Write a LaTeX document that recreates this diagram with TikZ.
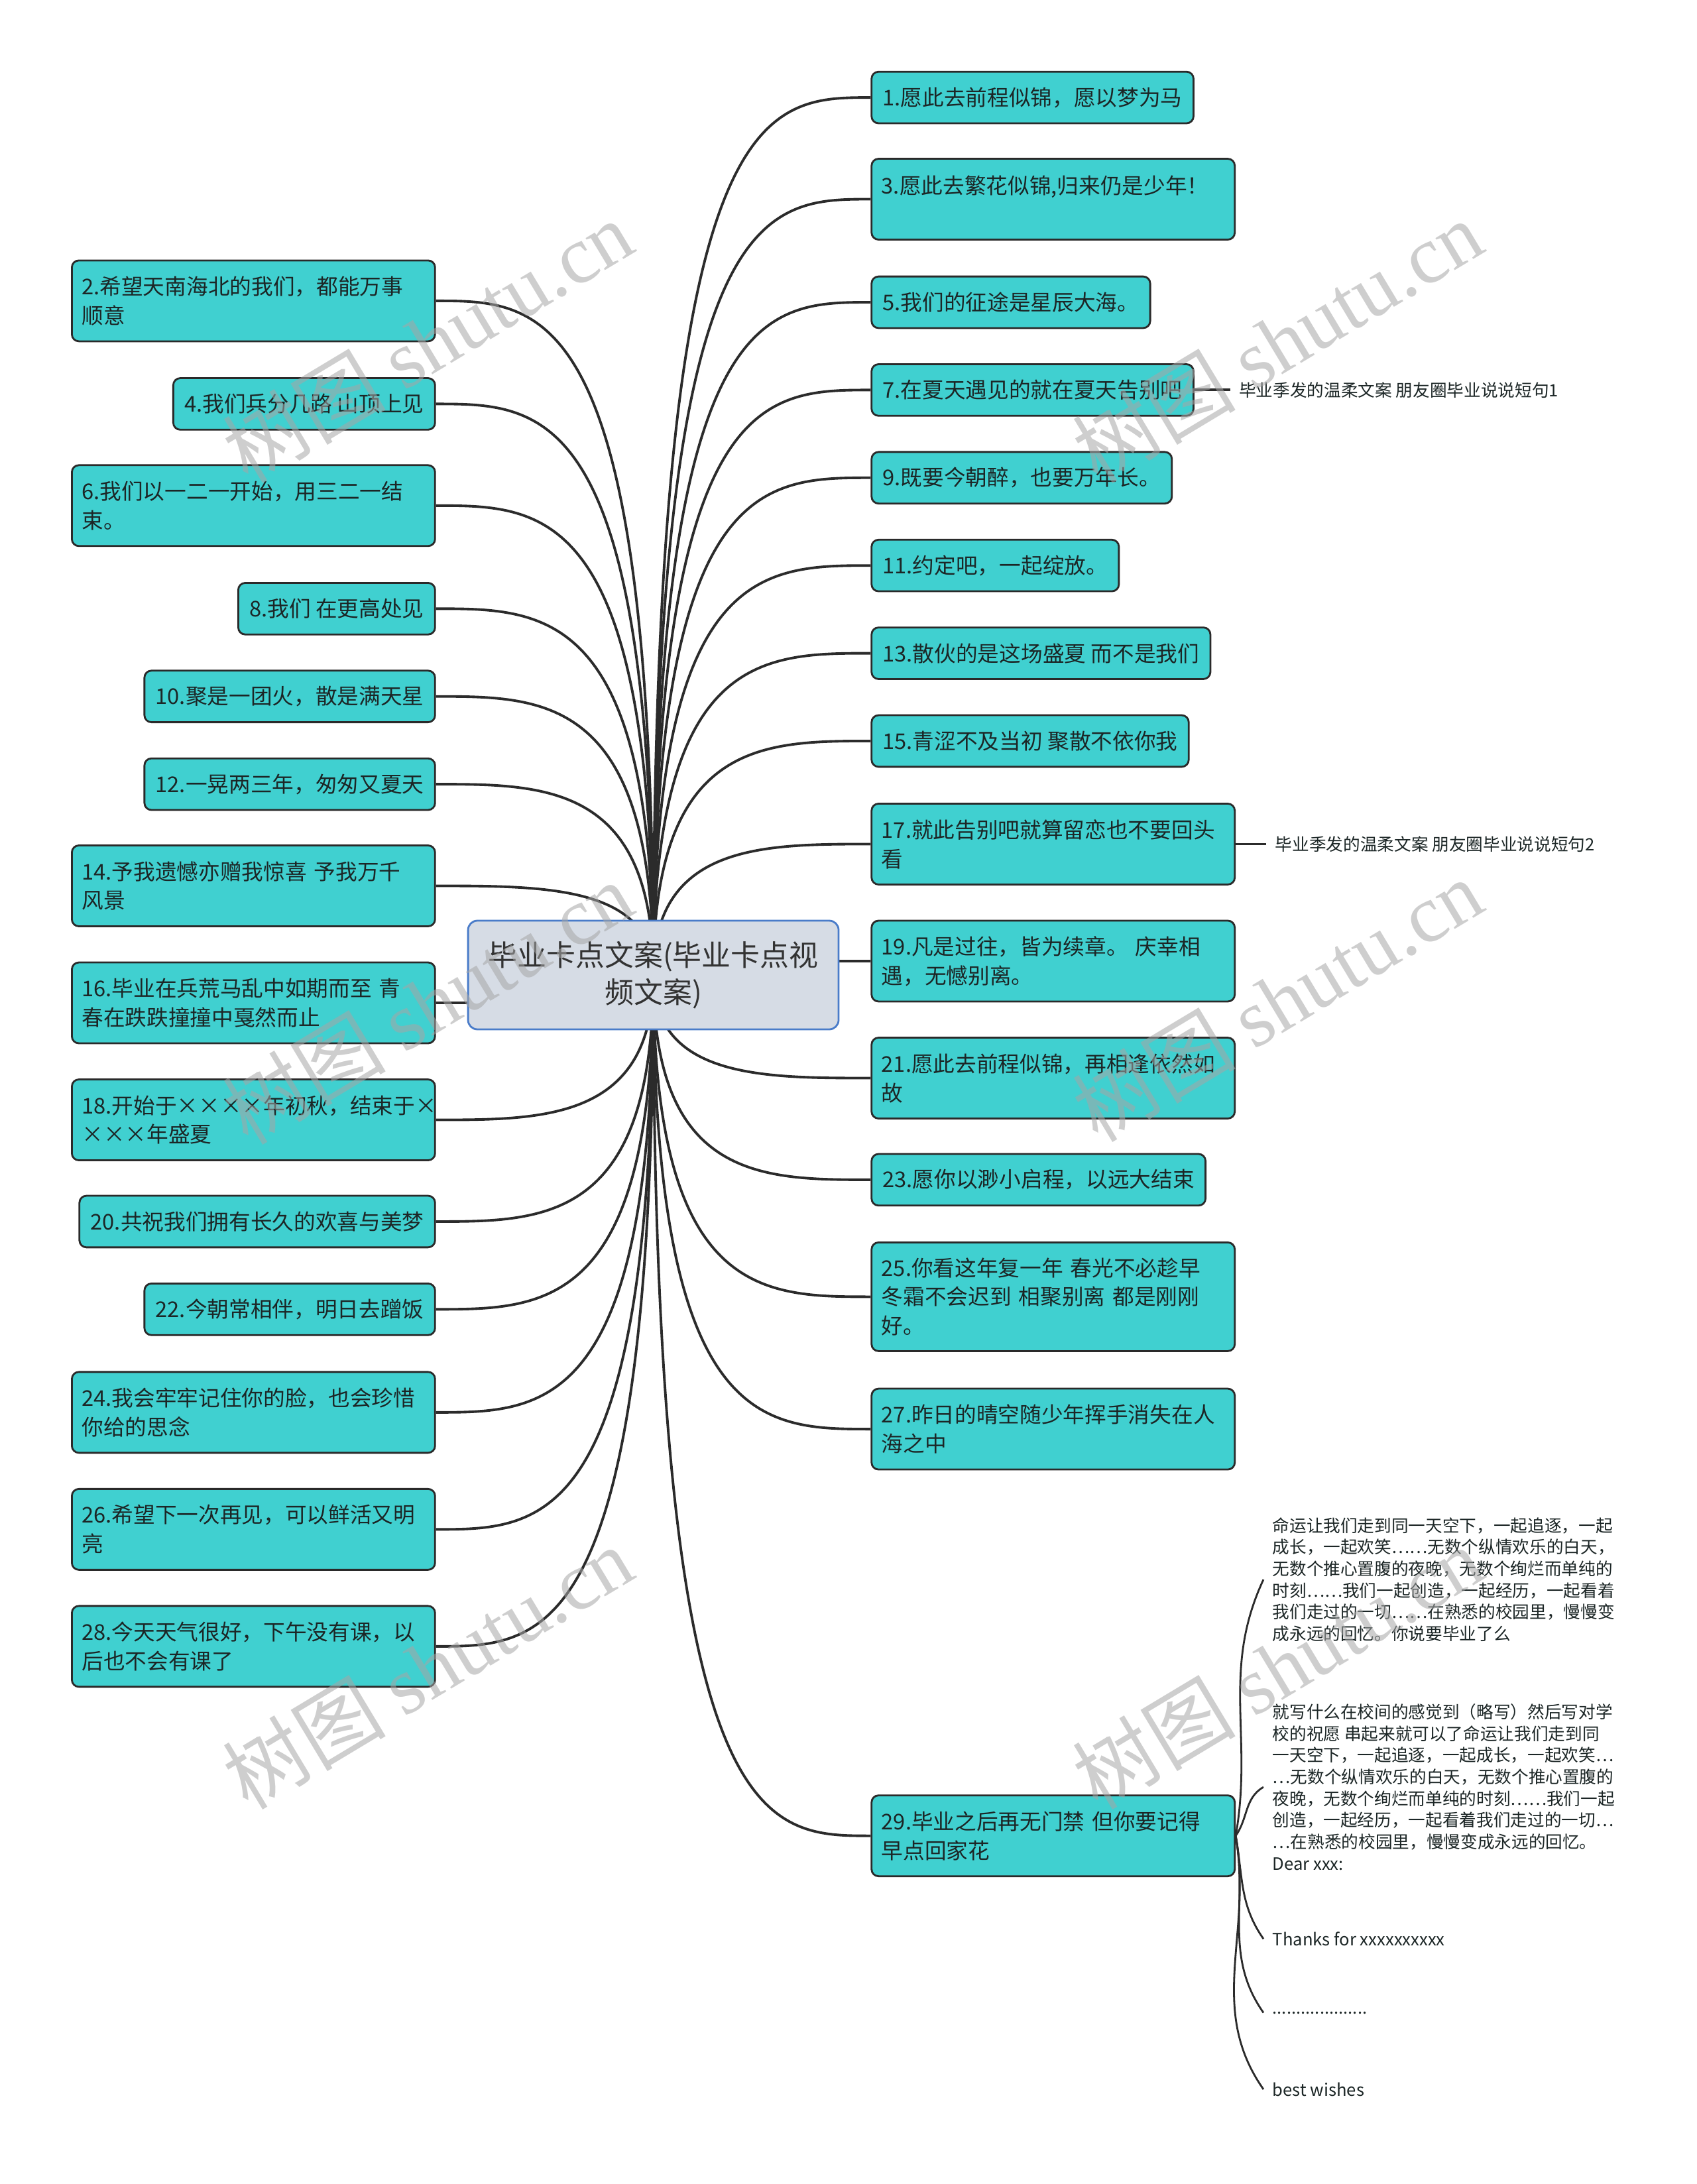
\documentclass[tikz,border=0pt]{standalone}
\usepackage{fontspec}
\setmainfont{Noto Sans CJK SC}
\newfontfamily\wmlatin{Liberation Serif}
\usetikzlibrary{positioning, calc, backgrounds}

\definecolor{boxfill}{HTML}{40D0D0}
\definecolor{boxline}{HTML}{2A2A2A}
\definecolor{rootfill}{HTML}{D6DCE5}
\definecolor{rootline}{HTML}{4A7CC9}
\definecolor{linkcol}{HTML}{2B2B2B}
\definecolor{txtcol}{HTML}{1C2626}
\definecolor{wmcol}{HTML}{A6A6A6}

\begin{document}
\begin{tikzpicture}[
  x=0.21018mm, y=-0.21018mm,
  box/.style={rounded corners=3pt, draw=boxline, line width=0.8pt, fill=boxfill,
              text=txtcol, font=\fontsize{9.3pt}{12.5pt}\selectfont,
              inner xsep=0.168cm, inner ysep=0pt, minimum height=0.778cm, align=left},
  rbox/.style={box, anchor=west},
  lbox/.style={box, anchor=east},
  wide/.style={text width=5.18cm, inner xsep=0.15cm},
  two/.style={minimum height=1.22cm},
  three/.style={minimum height=1.64cm},
  rootbox/.style={rounded corners=4pt, draw=rootline, line width=0.8pt, fill=rootfill,
                  text=black!80, font=\fontsize{12.5pt}{16pt}\selectfont, align=center,
                  minimum width=5.59cm, minimum height=1.64cm},
  note/.style={font=\fontsize{7.3pt}{9.3pt}\selectfont, text=txtcol, anchor=west,
               inner xsep=0.13cm, inner ysep=1pt, align=left},
  link/.style={draw=linkcol, line width=1.1pt},
  sublink/.style={draw=linkcol, line width=0.8pt},
  wm/.style={text=wmcol, opacity=0.55, rotate=31, font=\fontsize{35pt}{35pt}\selectfont},
]
  \useasboundingbox (0,0) rectangle (1218,1568);

  % ═══ Root ═══════════════════════════════════════════════════
  \node[rootbox] (root) at (469, 700) {毕业卡点文案(毕业卡点视\\频文案)};

  % ═══ RIGHT: odd entries ═════════════════════════════════════
  \node[rbox] (r1)  at (625, 70)  {1.愿此去前程似锦，愿以梦为马};
  \node[rbox, wide, two] (r3) at (625, 143) {3.愿此去繁花似锦,归来仍是少年！\\ \mbox{}};
  \node[rbox] (r5)  at (625, 217) {5.我们的征途是星辰大海。};
  \node[rbox] (r7)  at (625, 280) {7.在夏天遇见的就在夏天告别吧};
  \node[rbox] (r9)  at (625, 343) {9.既要今朝醉，也要万年长。};
  \node[rbox] (r11) at (625, 406) {11.约定吧，一起绽放。};
  \node[rbox] (r13) at (625, 469) {13.散伙的是这场盛夏 而不是我们};
  \node[rbox] (r15) at (625, 532) {15.青涩不及当初 聚散不依你我};
  \node[rbox, wide, two] (r17) at (625, 606) {17.就此告别吧就算留恋也不要回头\\看};
  \node[rbox, wide, two] (r19) at (625, 690) {19.凡是过往，皆为续章。 庆幸相\\遇，无憾别离。};
  \node[rbox, wide, two] (r21) at (625, 774) {21.愿此去前程似锦，再相逢依然如\\故};
  \node[rbox] (r23) at (625, 847) {23.愿你以渺小启程，以远大结束};
  \node[rbox, wide, three] (r25) at (625, 931) {25.你看这年复一年 春光不必趁早\\冬霜不会迟到 相聚别离 都是刚刚\\好。};
  \node[rbox, wide, two] (r27) at (625, 1026) {27.昨日的晴空随少年挥手消失在人\\海之中};
  \node[rbox, wide, two] (r29) at (625, 1318) {29.毕业之后再无门禁 但你要记得\\早点回家花};

  % ═══ LEFT: even entries ═════════════════════════════════════
  \node[lbox, wide, two] (l2)  at (313, 216) {2.希望天南海北的我们，都能万事\\顺意};
  \node[lbox] (l4)  at (313, 290) {4.我们兵分几路 山顶上见};
  \node[lbox, wide, two] (l6)  at (313, 363) {6.我们以一二一开始，用三二一结\\束。};
  \node[lbox] (l8)  at (313, 437) {8.我们 在更高处见};
  \node[lbox] (l10) at (313, 500) {10.聚是一团火，散是满天星};
  \node[lbox] (l12) at (313, 563) {12.一晃两三年，匆匆又夏天};
  \node[lbox, wide, two] (l14) at (313, 636) {14.予我遗憾亦赠我惊喜 予我万千\\风景};
  \node[lbox, wide, two] (l16) at (313, 720) {16.毕业在兵荒马乱中如期而至 青\\春在跌跌撞撞中戛然而止};
  \node[lbox, wide, two] (l18) at (313, 804) {18.开始于××××年初秋，结束于×\\×××年盛夏};
  \node[lbox] (l20) at (313, 877) {20.共祝我们拥有长久的欢喜与美梦};
  \node[lbox] (l22) at (313, 940) {22.今朝常相伴，明日去蹭饭};
  \node[lbox, wide, two] (l24) at (313, 1014) {24.我会牢牢记住你的脸，也会珍惜\\你给的思念};
  \node[lbox, wide, two] (l26) at (313, 1098) {26.希望下一次再见，可以鲜活又明\\亮};
  \node[lbox, wide, two] (l28) at (313, 1182) {28.今天天气很好，下午没有课，以\\后也不会有课了};

  % ═══ Side notes ═════════════════════════════════════════════
  \node[note] (n7)  at (883, 280) {毕业季发的温柔文案 朋友圈毕业说说短句1};
  \node[note] (n17) at (909, 606) {毕业季发的温柔文案 朋友圈毕业说说短句2};

  % children of 29
  \node[note] (t1) at (907, 1134) {命运让我们走到同一天空下，一起追逐，一起\\
    成长，一起欢笑……无数个纵情欢乐的白天，\\
    无数个推心置腹的夜晚，无数个绚烂而单纯的\\
    时刻……我们一起创造，一起经历，一起看着\\
    我们走过的一切……在熟悉的校园里，慢慢变\\
    成永远的回忆。你说要毕业了么};
  \node[note] (t2) at (907, 1283) {就写什么在校间的感觉到（略写）然后写对学\\
    校的祝愿 串起来就可以了命运让我们走到同\\
    一天空下，一起追逐，一起成长，一起欢笑…\\
    …无数个纵情欢乐的白天，无数个推心置腹的\\
    夜晚，无数个绚烂而单纯的时刻……我们一起\\
    创造，一起经历，一起看着我们走过的一切…\\
    …在熟悉的校园里，慢慢变成永远的回忆。\\
    Dear xxx:};
  \node[note] (t3) at (907, 1392) {Thanks for xxxxxxxxxx};
  \node[note] (t4) at (907, 1445) {....................};
  \node[note] (t5) at (907, 1500) {best wishes};

  % ═══ Links ══════════════════════════════════════════════════
  \begin{pgfonlayer}{background}
  \foreach \n in {r1,r3,r5,r7,r9,r11,r13,r15,r17,r19,r21,r23,r25,r27,r29} {
    \draw[link] (root.center) .. controls (root.center |- \n.west)
      and ($(root.center |- \n.west)!0.5!(\n.west)$) .. (\n.west);
  }
  \foreach \n in {l2,l4,l6,l8,l10,l12,l14,l16,l18,l20,l22,l24,l26,l28} {
    \draw[link] (root.center) .. controls (root.center |- \n.east)
      and ($(root.center |- \n.east)!0.5!(\n.east)$) .. (\n.east);
  }
  \end{pgfonlayer}
  \draw[link] (r7.east) -- (n7.west);
  \draw[link] (r17.east) -- (n17.west);
  % 29 -> texts
  \draw[sublink] (r29.east) to[out=80, in=-115] (t1.west);
  \draw[sublink] (r29.east) to[out=55, in=-150] (t2.west);
  \foreach \t in {t3,t4,t5} {
    \draw[sublink] (r29.east) to[out=-80, in=125] (\t.west);
  }

  % ═══ Watermarks ═════════════════════════════════════════════
  \node[wm] (wm1) at (307, 245)  {树图 {\wmlatin shutu.cn}};
  \node[wm] (wm2) at (917, 245)  {树图 {\wmlatin shutu.cn}};
  \node[wm] (wm3) at (307, 720)  {树图 {\wmlatin shutu.cn}};
  \node[wm] (wm4) at (917, 718)  {树图 {\wmlatin shutu.cn}};
  \node[wm] (wm5) at (307, 1197) {树图 {\wmlatin shutu.cn}};
  \node[wm] (wm6) at (917, 1197) {树图 {\wmlatin shutu.cn}};
\end{tikzpicture}
\end{document}
